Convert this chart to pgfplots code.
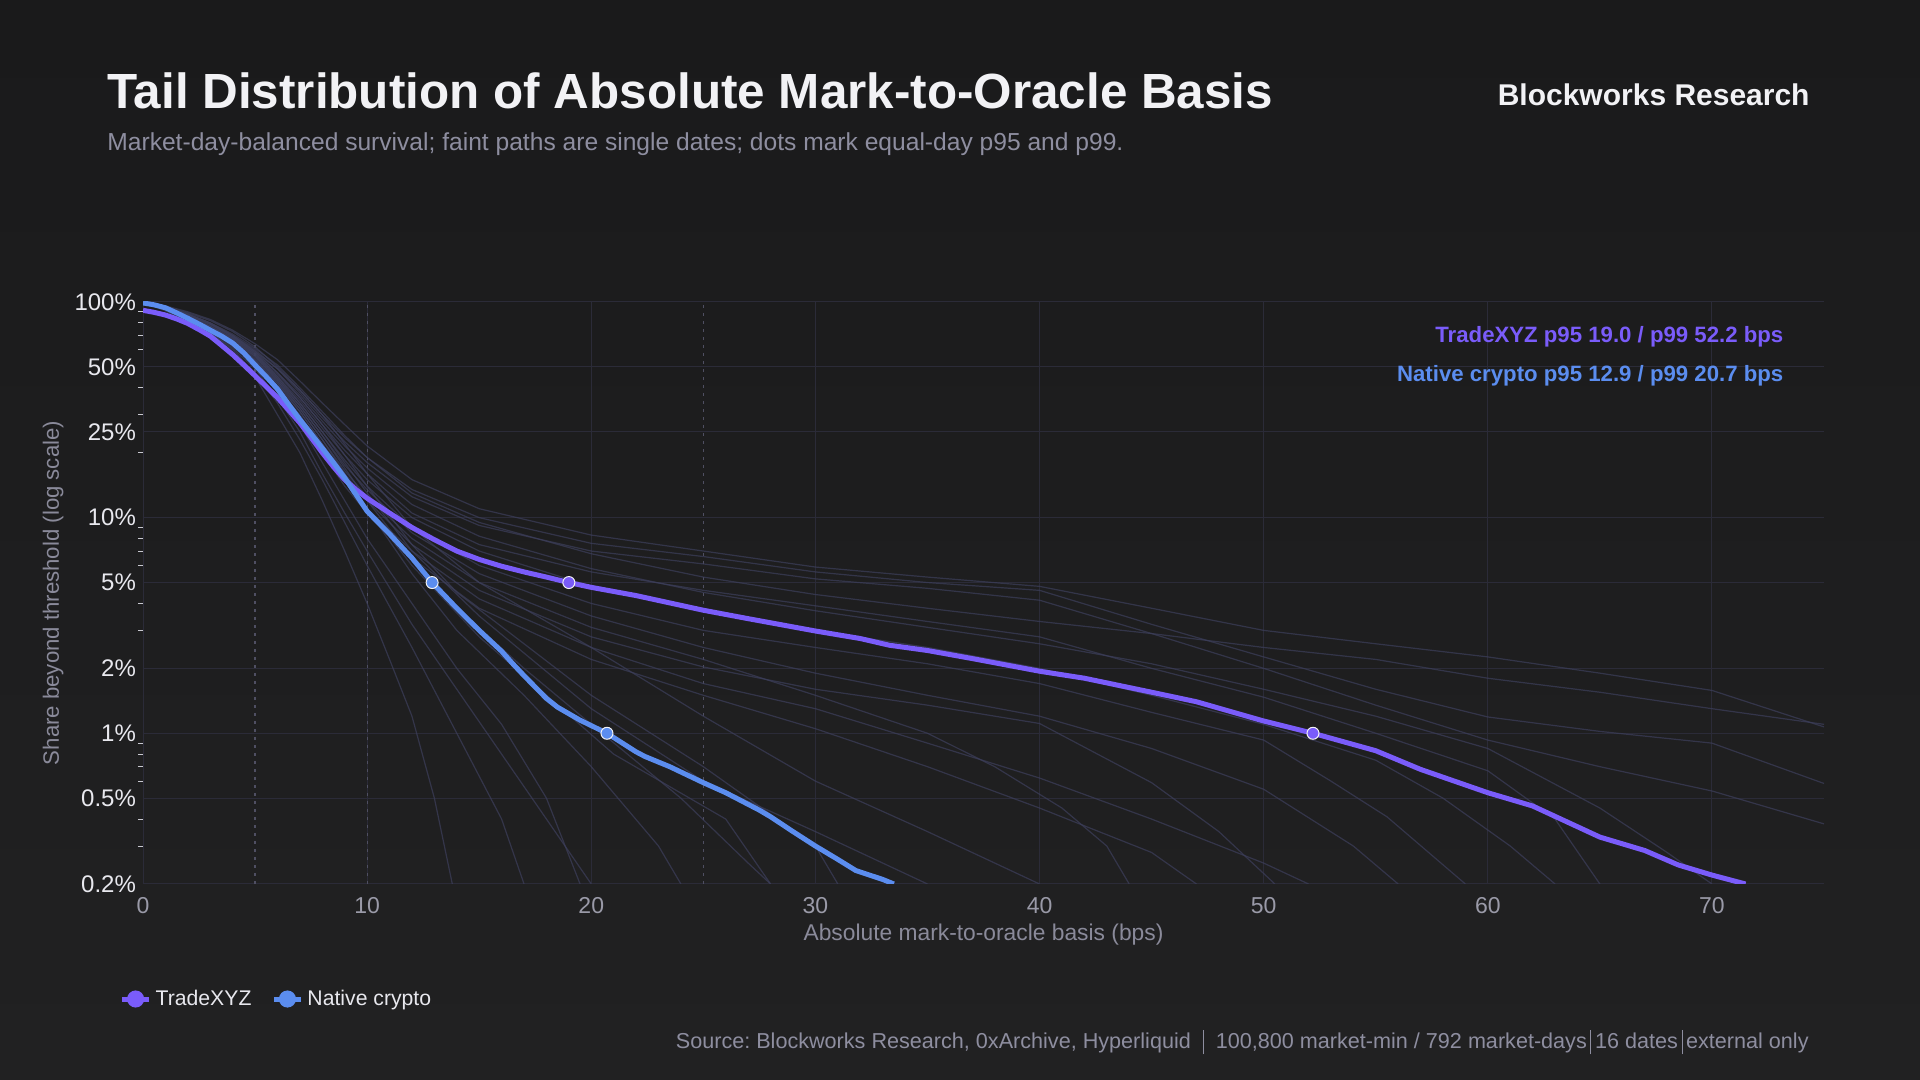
\documentclass[border=0pt]{standalone}
\usepackage{fontspec}
\setmainfont{Liberation Sans}
\usepackage{pgfplots}
\pgfplotsset{compat=1.18}
\usetikzlibrary{shadings}
\frenchspacing
\definecolor{bgtop}{HTML}{1A1A1B}
\definecolor{bgbot}{HTML}{212122}
\definecolor{titlec}{HTML}{F2F2F5}
\definecolor{subc}{HTML}{8E8EA0}
\definecolor{purp}{HTML}{7A5CFA}
\definecolor{blu}{HTML}{5B8DEF}
\definecolor{gridc}{HTML}{2B2B38}
\definecolor{faintc}{HTML}{3D3F5C}
\definecolor{dotc}{HTML}{4F4F62}
\definecolor{ytl}{HTML}{E8E8EE}
\definecolor{xtl}{HTML}{9A9AA8}
\definecolor{labc}{HTML}{8A8A9A}
\definecolor{tickc}{HTML}{C8C8D0}
\begin{document}
\begin{tikzpicture}
\fill[top color=bgtop,bottom color=bgbot] (0pt,0pt) rectangle (960pt,540pt);
\node[anchor=base west,inner sep=0pt,text=titlec,font=\fontsize{24.7}{28}\selectfont\bfseries] at (53.5pt,485.5pt) {Tail Distribution of Absolute Mark-to-Oracle Basis};
\node[anchor=base west,inner sep=0pt,text=subc,font=\fontsize{12.3}{14}\selectfont] at (53.5pt,464.8pt) {Market-day-balanced survival; faint paths are single dates; dots mark equal-day p95 and p99.};
\node[anchor=base east,inner sep=0pt,text=titlec,font=\fontsize{15}{18}\selectfont\bfseries] at (905pt,487pt) {Blockworks Research};
\node[anchor=base east,inner sep=0pt,text=subc,font=\fontsize{10.8}{12}\selectfont] at (904.5pt,15.5pt) {Source: Blockworks Research, 0xArchive, Hyperliquid \ \rule[-0.25em]{0.5pt}{1.15em}\ \ 100,800 market-min / 792 market-days\,\rule[-0.25em]{0.5pt}{1.15em}\,16 dates\,\rule[-0.25em]{0.5pt}{1.15em}\,external only};
\begin{axis}[
  at={(71.5pt,98pt)}, anchor=south west, scale only axis,
  width=840.5pt, height=291pt,
  xmin=0, xmax=75, ymin=0.2, ymax=100, ymode=log,
  axis line style={draw=none},
  xtick={0,10,20,30,40,50,60,70},
  ytick={0.2,0.5,1,2,5,10,25,50,100},
  yticklabels={0.2\%,0.5\%,1\%,2\%,5\%,10\%,25\%,50\%,100\%},
  minor ytick={0.3,0.4,0.6,0.7,0.8,0.9,3,4,6,7,8,9,20,30,40,60,70,80,90},
  xmajorgrids, ymajorgrids, grid style={color=gridc, line width=0.5pt},
  major tick length=0pt, minor tick length=2.5pt, tick align=outside,
  ytick pos=left, xtick pos=bottom,
  minor tick style={color=tickc, line width=0.5pt},
  /pgf/number format/assume math mode=true,
  yticklabel style={text=ytl, font=\fontsize{12}{14}\selectfont},
  xticklabel style={text=xtl, font=\fontsize{11.5}{14}\selectfont, yshift=-3pt},
  xlabel={Absolute mark-to-oracle basis (bps)},
  ylabel={Share beyond threshold (log scale)},
  xlabel style={text=labc, font=\fontsize{11.4}{14}\selectfont, at={(axis description cs:0.5,-0.0876)}, anchor=center},
  ylabel style={text=labc, font=\fontsize{11.1}{14}\selectfont, at={(axis description cs:-0.0535,0.5)}, anchor=center},
  faint/.style={color=faintc, line width=0.6pt, opacity=0.7, forget plot},
  legend style={draw=none, fill=none, text=ytl, font=\fontsize{10.6}{13}\selectfont,
    at={(axis description cs:-0.0177,-0.1976)}, anchor=west, legend columns=2,
    /tikz/every even column/.append style={column sep=8pt}},
  legend image code/.code={\draw[#1, line width=2.5pt] (0pt,0pt) -- (13.5pt,0pt); \fill[#1] (6.75pt,0pt) circle (3pt);},
]
% reference dotted lines
\addplot[color=dotc, line width=0.6pt, dash pattern=on 1.5pt off 2.5pt, forget plot] coordinates {(5,0.2)(5,100)};
\addplot[color=dotc, line width=0.6pt, dash pattern=on 1.5pt off 2.5pt, forget plot] coordinates {(10,0.2)(10,100)};
\addplot[color=dotc, line width=0.6pt, dash pattern=on 1.5pt off 2.5pt, forget plot] coordinates {(25,0.2)(25,100)};
% faint single-date paths (TradeXYZ dates)
\addplot[faint] coordinates {(0,100)(1,96)(2,90)(3,83)(4,74)(5,64)(6,54)(7,43)(8,34)(9,27)(10,21.5)(12,15)(15,11)(20,8.3)(25,7.0)(30,5.9)(35,5.3)(40,4.8)(45,3.8)(50,3.0)(55,2.6)(60,2.26)(65,1.9)(70,1.58)(75,1.07)};
\addplot[faint] coordinates {(0,100)(1,95)(2,88)(3,80)(4,71)(5,61)(6,51)(7,40)(8,31)(9,24)(10,19)(12,13.5)(15,10)(20,7.6)(25,6.6)(30,5.6)(35,5.0)(40,4.6)(45,3.2)(50,2.26)(55,1.6)(60,1.19)(65,1.02)(70,0.9)(75,0.585)};
\addplot[faint] coordinates {(0,100)(1,95)(2,87)(3,78)(4,69)(5,59)(6,49)(7,38)(8,29)(9,22.5)(10,18)(12,12.5)(15,9.2)(20,7.0)(25,6.1)(30,5.2)(35,4.7)(40,4.14)(45,2.9)(50,2.0)(55,1.35)(60,0.93)(65,0.7)(70,0.54)(75,0.38)};
\addplot[faint] coordinates {(0,100)(1,94)(2,86)(3,77)(4,67)(5,57)(6,46)(7,36)(8,27)(9,20.5)(10,16)(12,10.5)(15,7.5)(20,5.6)(25,4.6)(30,3.9)(35,3.3)(40,2.8)(45,2.0)(50,1.47)(55,1.0)(60,0.67)(63,0.4)(65,0.2)};
\addplot[faint] coordinates {(0,100)(1,94)(2,85)(3,76)(4,66)(5,55)(6,44)(7,34)(8,25)(9,18.5)(10,14)(12,9)(15,6)(20,4)(25,3.0)(30,2.5)(35,2.1)(40,1.7)(45,1.25)(50,0.93)(53,0.6)(55.5,0.41)(59,0.2)};
\addplot[faint] coordinates {(0,100)(1,93)(2,84)(3,74)(4,64)(5,53)(6,41)(7,31)(8,22)(9,16)(10,12)(12,7.5)(15,4.6)(20,2.8)(25,2.03)(30,1.6)(35,1.35)(40,1.11)(45,0.59)(48,0.35)(50.5,0.2)};
\addplot[faint] coordinates {(0,100)(1,93)(2,83)(3,73)(4,62)(5,51)(6,39)(7,29)(8,20)(9,14)(10,10.5)(12,6.5)(15,3.8)(20,2.2)(25,1.5)(30,1.05)(35,0.7)(40,0.45)(45,0.28)(47,0.2)};
\addplot[faint] coordinates {(0,100)(1,94)(2,85)(3,75)(4,65)(5,54)(6,43)(7,33)(8,24)(9,17.5)(10,13.5)(12,8.5)(15,5.5)(20,3.5)(25,2.5)(30,1.9)(35,1.5)(40,1.2)(45,0.85)(50,0.55)(54,0.3)(56,0.2)};
\addplot[faint] coordinates {(0,100)(1,95)(2,87)(3,79)(4,70)(5,60)(6,49)(7,39)(8,30)(9,23.5)(10,19)(12,13)(15,9.5)(20,6.8)(25,5.3)(30,4.4)(35,3.8)(40,3.3)(45,2.9)(50,2.5)(55,2.2)(60,1.8)(65,1.55)(70,1.3)(75,1.1)};
\addplot[faint] coordinates {(0,100)(1,95)(2,86)(3,77)(4,68)(5,58)(6,47)(7,37)(8,28)(9,21.5)(10,17)(12,11.5)(15,8.2)(20,5.8)(25,4.5)(30,3.7)(35,3.1)(40,2.6)(45,2.1)(50,1.6)(55,1.2)(60,0.85)(65,0.45)(68,0.28)(70,0.2)};
\addplot[faint] coordinates {(0,100)(1,93)(2,84)(3,73)(4,63)(5,52)(6,40)(7,30)(8,21)(9,15)(10,11)(12,7)(15,4.2)(20,2.5)(25,1.7)(30,1.3)(35,0.9)(40,0.62)(45,0.4)(50,0.25)(52,0.2)};
\addplot[faint] coordinates {(0,100)(1,94)(2,85)(3,74)(4,64)(5,53)(6,42)(7,32)(8,23)(9,16.5)(10,12.5)(12,8)(15,5)(20,3.1)(25,2.2)(30,1.5)(35,1.0)(38,0.7)(41,0.45)(43,0.3)(44,0.2)};
\addplot[faint] coordinates {(0,100)(1,94)(2,86)(3,76)(4,66)(5,56)(6,45)(7,35)(8,26)(9,19.5)(10,15)(12,10)(15,7)(20,4.8)(25,3.7)(30,3.0)(35,2.5)(40,2.0)(45,1.5)(50,1.1)(55,0.75)(58,0.5)(61,0.3)(63,0.2)};
% faint single-date paths (native crypto dates)
\addplot[faint] coordinates {(0,100)(1,91)(2,80)(3,70)(4,58)(5,45)(6,30)(7,20)(8,12)(9,7)(10,4)(11,2.2)(12,1.2)(13,0.5)(13.8,0.2)};
\addplot[faint] coordinates {(0,100)(1,92)(2,82)(3,72)(4,60)(5,47)(6,34)(7,23)(8,15)(9,9.5)(10,6)(12,2.5)(14,1)(16,0.4)(17,0.2)};
\addplot[faint] coordinates {(0,100)(1,93)(2,84)(3,74)(4,63)(5,51)(6,38)(7,27)(8,18)(9,12)(10,8)(12,4)(14,2)(16,1.1)(18,0.5)(19.5,0.2)};
\addplot[faint] coordinates {(0,100)(1,93)(2,85)(3,76)(4,66)(5,54)(6,42)(7,31)(8,22)(9,15.5)(10,11)(12,5.5)(14,3)(17,1.5)(20,0.7)(23,0.3)(24,0.2)};
\addplot[faint] coordinates {(0,100)(1,94)(2,86)(3,77)(4,68)(5,57)(6,44)(7,33)(8,24)(9,17)(10,12)(12,6.5)(14,3.8)(17,2)(20,1.1)(24,0.5)(27,0.25)(28,0.2)};
\addplot[faint] coordinates {(0,100)(1,95)(2,88)(3,80)(4,70)(5,59)(6,47)(7,36)(8,27)(9,19.5)(10,14)(12,7.5)(14,4.5)(17,2.6)(20,1.5)(25,0.7)(30,0.3)(31,0.2)};
\addplot[faint] coordinates {(0,100)(1,94)(2,87)(3,79)(4,69)(5,58)(6,45)(7,34)(8,25)(9,18)(10,13)(12,7)(15,3.5)(20,1.3)(25,0.6)(30,0.35)(35,0.2)};
\addplot[faint] coordinates {(0,100)(1,95)(2,89)(3,82)(4,73)(5,62)(6,50)(7,39)(8,30)(9,22)(10,16)(12,9)(15,5)(20,2.5)(25,1.2)(30,0.6)(35,0.35)(40,0.2)};
\addplot[faint] coordinates {(0,100)(1,94)(2,86)(3,77)(4,67)(5,56)(6,43)(7,32)(8,23)(9,16)(10,11)(12,6)(15,2.8)(18,1.5)(21,0.8)(26,0.4)(28,0.2)};
\addplot[faint] coordinates {(0,100)(1,92)(2,83)(3,72)(4,61)(5,49)(6,36)(7,25)(8,16)(9,10.5)(10,7)(12,3.2)(14,1.6)(16,0.8)(18,0.4)(20,0.2)};
% main series
\addplot[color=purp, line width=2.5pt] coordinates {(0,91.5)(0.5,89.5)(1,87)(1.5,83.5)(2,79.5)(2.55,74)(3,69.5)(3.5,63)(4,57)(4.5,51)(5,45.5)(5.5,40.5)(6,36)(6.5,31.5)(7,27.5)(7.5,23.5)(8,20)(8.5,17.2)(9,15)(9.5,13.5)(10,12.3)(11,10.5)(12,9.0)(13,7.9)(14,7.0)(15,6.4)(16,5.95)(17,5.6)(18,5.3)(19,5.0)(20,4.75)(22,4.35)(25,3.72)(27,3.4)(30,2.98)(32,2.75)(33.3,2.56)(35,2.42)(37,2.22)(40,1.94)(42,1.8)(45,1.55)(47,1.4)(50,1.14)(52.2,1.0)(55,0.83)(57,0.68)(60,0.53)(62,0.46)(65,0.33)(67,0.286)(68.5,0.245)(70,0.22)(71.5,0.2)};
\addlegendentry{TradeXYZ}
\addplot[color=blu, line width=2.5pt] coordinates {(0,99)(0.5,97)(1,94)(1.5,89)(2,84)(2.55,78.5)(3,74)(3.5,69.5)(4,64.5)(4.5,58)(5,51)(5.5,45)(6,39.5)(6.5,33.5)(7,28.5)(7.5,24.5)(8,21)(8.5,18)(9,15.3)(9.5,12.8)(10,10.7)(11,8.4)(12,6.5)(12.9,5.0)(14,3.8)(15,3.0)(16,2.4)(16.5,2.1)(17,1.85)(18,1.45)(18.5,1.32)(19.5,1.15)(20.7,1.0)(22,0.82)(22.4,0.78)(23.5,0.7)(25,0.59)(26,0.53)(27.5,0.44)(28,0.41)(29,0.35)(30,0.30)(31,0.26)(31.8,0.231)(33,0.21)(33.5,0.2)};
\addlegendentry{Native crypto}
% p95 / p99 dots
\addplot[only marks, mark=*, mark size=3pt, mark options={fill=purp, draw=titlec, line width=0.5pt}, forget plot] coordinates {(19.0,5)(52.2,1)};
\addplot[only marks, mark=*, mark size=3pt, mark options={fill=blu, draw=titlec, line width=0.5pt}, forget plot] coordinates {(12.9,5)(20.7,1)};
% annotations
\node[anchor=east, text=purp, font=\fontsize{11.1}{14}\selectfont\bfseries] at (axis cs:73.5,69) {TradeXYZ p95 19.0 / p99 52.2 bps};
\node[anchor=east, text=blu, font=\fontsize{11.1}{14}\selectfont\bfseries] at (axis cs:73.5,45.5) {Native crypto p95 12.9 / p99 20.7 bps};
\end{axis}
\end{tikzpicture}
\end{document}
